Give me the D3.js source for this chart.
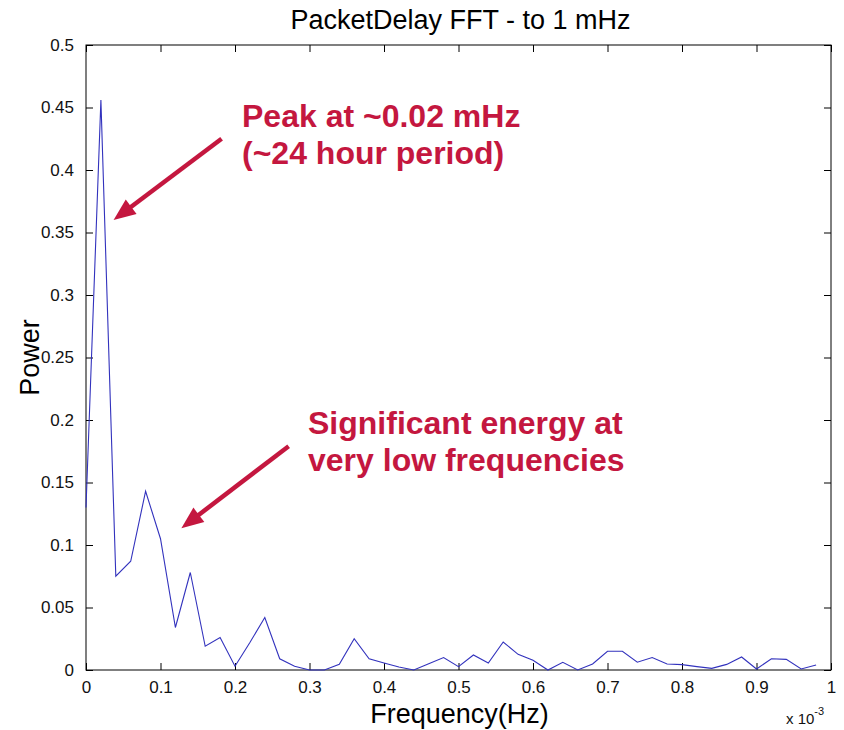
<!DOCTYPE html>
<html>
<head>
<meta charset="utf-8">
<script src="https://cdn.jsdelivr.net/npm/d3@7"></script>
<style>
  html, body { margin: 0; padding: 0; background: #fff; }
  svg { display: block; font-family: "Liberation Sans", Arial, sans-serif; }
</style>
</head>
<body>
<svg id="chart" width="844" height="730"></svg>
<script>
// Frequency bins (in units of 1e-3 Hz)
const freq = [0.00, 0.02, 0.04, 0.06, 0.08, 0.10, 0.12, 0.14, 0.16, 0.18,
              0.20, 0.22, 0.24, 0.26, 0.28, 0.30, 0.32, 0.34, 0.36, 0.38,
              0.40, 0.42, 0.44, 0.46, 0.48, 0.50, 0.52, 0.54, 0.56, 0.58,
              0.60, 0.62, 0.64, 0.66, 0.68, 0.70, 0.72, 0.74, 0.76, 0.78,
              0.80, 0.82, 0.84, 0.86, 0.88, 0.90, 0.92, 0.94, 0.96, 0.98];

// Spectral power per bin
const power = [0.130, 0.456, 0.075, 0.087, 0.143, 0.105, 0.034, 0.078, 0.019, 0.026,
               0.003, 0.022, 0.042, 0.009, 0.003, 0.000, 0.000, 0.0045, 0.025, 0.009,
               0.0056, 0.0024, 0.000, 0.005, 0.010, 0.0027, 0.012, 0.0056, 0.0224, 0.0125,
               0.0078, 0.000, 0.0062, 0.000, 0.0048, 0.015, 0.015, 0.0062, 0.010, 0.0048,
               0.0043, 0.0027, 0.0013, 0.0045, 0.0104, 0.0008, 0.009, 0.0085, 0.0008, 0.004];

const xTicks = [0, 0.1, 0.2, 0.3, 0.4, 0.5, 0.6, 0.7, 0.8, 0.9, 1];
const yTicks = [0, 0.05, 0.1, 0.15, 0.2, 0.25, 0.3, 0.35, 0.4, 0.45, 0.5];

const titleText = "PacketDelay FFT - to 1 mHz";
const xLabel = "Frequency(Hz)";
const yLabel = "Power";

// Callouts: text lines plus arrow tail/tip in data coordinates
const notes = [
  { lines: ["Peak at ~0.02 mHz", "(~24 hour period)"],
    tail: [0.182, 0.425], tip: [0.037, 0.36] },
  { lines: ["Significant energy at", "very low frequencies"],
    tail: [0.272, 0.179], tip: [0.128, 0.1135] }
];

const svg = d3.select("#chart");
const L = 86, R = 831, T = 45, B = 670;

const x = d3.scaleLinear().domain([0, 1]).range([L, R]);
const y = d3.scaleLinear().domain([0, 0.5]).range([B, T]);

const fmt = d => d === 0 ? "0" : String(+d.toFixed(2));

// Axes with inward ticks (box style)
const tickLen = 7;
svg.append("g").attr("transform", `translate(0,${B})`)
  .call(d3.axisBottom(x).tickValues(xTicks).tickFormat(fmt).tickSizeInner(-tickLen).tickSizeOuter(0).tickPadding(11))
  .call(g => g.select(".domain").remove());
svg.append("g").attr("transform", `translate(0,${T})`)
  .call(d3.axisTop(x).tickValues(xTicks).tickFormat("").tickSizeInner(-tickLen).tickSizeOuter(0))
  .call(g => g.select(".domain").remove());
svg.append("g").attr("transform", `translate(${L},0)`)
  .call(d3.axisLeft(y).tickValues(yTicks).tickFormat(fmt).tickSizeInner(-tickLen).tickSizeOuter(0).tickPadding(12))
  .call(g => g.select(".domain").remove());
svg.append("g").attr("transform", `translate(${R},0)`)
  .call(d3.axisRight(y).tickValues(yTicks).tickFormat("").tickSizeInner(-tickLen).tickSizeOuter(0))
  .call(g => g.select(".domain").remove());

svg.selectAll(".tick line").attr("stroke", "#000").attr("stroke-width", 1);
svg.selectAll(".tick text")
  .attr("fill", "#111")
  .style("font-size", "17px")
  .style("font-family", "'Liberation Sans', Arial, sans-serif");

// Frame
svg.append("rect")
  .attr("x", L).attr("y", T).attr("width", R - L).attr("height", B - T)
  .attr("fill", "none").attr("stroke", "#000").attr("stroke-width", 1);

// Spectrum line
const line = d3.line().x((d, i) => x(freq[i])).y(d => y(d));
svg.append("path")
  .datum(power)
  .attr("d", line)
  .attr("fill", "none")
  .attr("stroke", "#3232bd")
  .attr("stroke-width", 1.1)
  .attr("stroke-linejoin", "miter");

// Title and axis labels
svg.append("text")
  .attr("x", (L + R) / 2 + 2).attr("y", 29)
  .attr("text-anchor", "middle")
  .style("font-size", "27px").attr("fill", "#000")
  .text(titleText);

svg.append("text")
  .attr("x", (L + R) / 2 + 1).attr("y", 723)
  .attr("text-anchor", "middle")
  .style("font-size", "27px").attr("fill", "#000")
  .text(xLabel);

svg.append("text")
  .attr("transform", `translate(39,${(T + B) / 2}) rotate(-90)`)
  .attr("text-anchor", "middle")
  .style("font-size", "27px").attr("fill", "#000")
  .text(yLabel);

// Exponent for the x axis
const ex = svg.append("text")
  .attr("x", 786).attr("y", 724)
  .style("font-size", "15px").attr("fill", "#111");
ex.append("tspan").text("x 10");
ex.append("tspan").attr("dy", -9).style("font-size", "11px").text("-3");

// Callouts
const red = "#c4173f";
notes.forEach((n, k) => {
  const tx = k === 0 ? 242 : 308;
  const ty = k === 0 ? 127 : 434;
  const t = svg.append("text")
    .attr("fill", red)
    .style("font-size", "32px").style("font-weight", "bold")
    .style("font-family", "'Liberation Sans', Arial, sans-serif");
  n.lines.forEach((s, i) => {
    t.append("tspan").attr("x", tx).attr("y", ty + i * 37).text(s);
  });

  const x0 = x(n.tail[0]), y0 = y(n.tail[1]);
  const x1 = x(n.tip[0]), y1 = y(n.tip[1]);
  const ang = Math.atan2(y1 - y0, x1 - x0);
  const headLen = 22, headHalf = 9;
  const bx = x1 - headLen * Math.cos(ang), by = y1 - headLen * Math.sin(ang);
  svg.append("line")
    .attr("x1", x0).attr("y1", y0).attr("x2", bx + 2 * Math.cos(ang)).attr("y2", by + 2 * Math.sin(ang))
    .attr("stroke", red).attr("stroke-width", 4.5);
  const px = -Math.sin(ang), py = Math.cos(ang);
  svg.append("path")
    .attr("d", `M${x1},${y1} L${bx + headHalf * px},${by + headHalf * py} L${bx - headHalf * px},${by - headHalf * py} Z`)
    .attr("fill", red);
});
</script>
</body>
</html>
